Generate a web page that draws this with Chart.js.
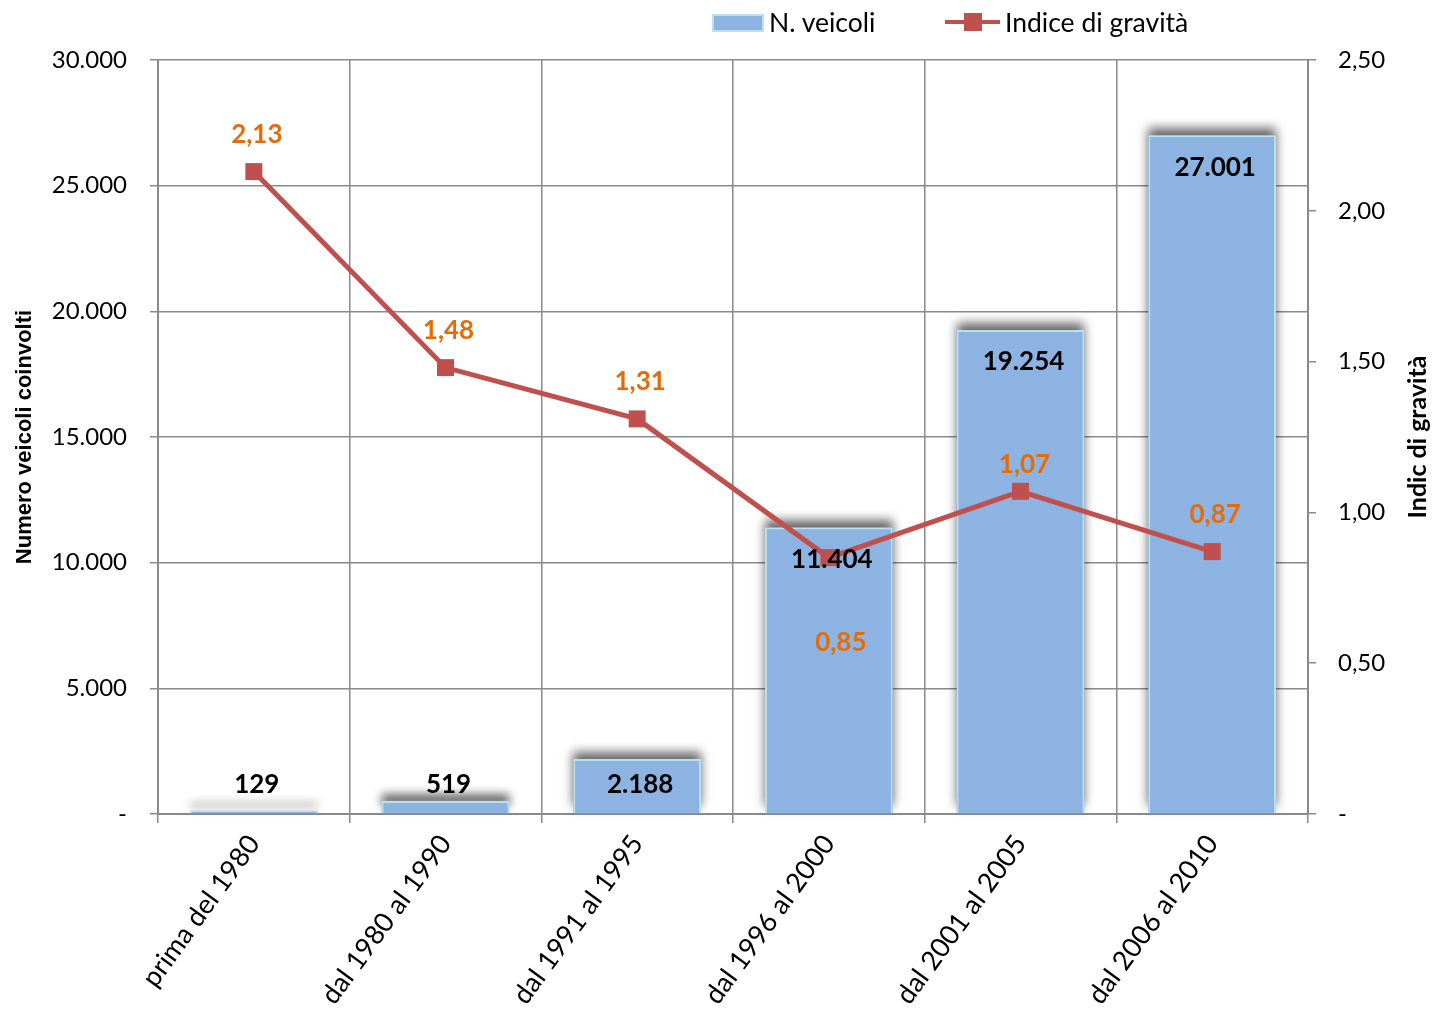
<!DOCTYPE html>
<html lang="it">
<head>
<meta charset="utf-8">
<title>Veicoli coinvolti e indice di gravità</title>
<script src="https://cdn.jsdelivr.net/npm/chart.js@4/dist/chart.umd.min.js"></script>
<style>
    html, body { margin: 0; padding: 0; background: #ffffff; }
    .wrap { position: relative; width: 1433px; height: 1011px; }
    canvas { position: absolute; left: 0; top: 0; }
    .legend { position: absolute; top: 6px; left: 712px; height: 32px; font-family: Lato, sans-serif; font-size: 26.5px; color: #000; }
    .legend-item { position: absolute; top: 0; white-space: nowrap; line-height: 32px; }
    .swatch-bar { position: absolute; top: 8px; left: 0; width: 48px; height: 14px; background: #8db3e2; border: 2px solid #b9e0ec; }
    .swatch-line { position: absolute; top: 14px; left: 0; width: 55px; height: 4px; background: #c0504d; }
    .swatch-mark { position: absolute; top: 7px; left: 19px; width: 18px; height: 18px; background: #c0504d; }
</style>
</head>
<body>
<div class="wrap">
    <canvas id="veicoliChart" width="1433" height="1011"></canvas>
    <div class="legend">
        <div class="legend-item" style="left:0">
            <span class="swatch-bar"></span>
            <span style="position:absolute;left:57px">N. veicoli</span>
        </div>
        <div class="legend-item" style="left:233px">
            <span class="swatch-line"></span>
            <span class="swatch-mark"></span>
            <span style="position:absolute;left:60px">Indice di gravità</span>
        </div>
    </div>
</div>
<script>
const categories = ['prima del 1980', 'dal 1980 al 1990', 'dal 1991 al 1995', 'dal 1996 al 2000', 'dal 2001 al 2005', 'dal 2006 al 2010'];
const vehicles = [129, 519, 2188, 11404, 19254, 27001];
const severity = [2.13, 1.48, 1.31, 0.85, 1.07, 0.87];

const leftTicks = { min: 0, max: 30000, step: 5000 };
const rightTicks = { min: 0, max: 2.5, step: 0.5 };

document.addEventListener('DOMContentLoaded', () => {
    const gridColor = '#8a8a8a';
    const barFill = '#8db3e2';
    const barEdge = '#b9e0ec';
    const lineColor = '#c0504d';
    const labelOrange = '#e36c09';
    const baseFont = 'Lato, "Open Sans", sans-serif';

    // 30000 -> "30.000", 0 -> "-"
    const fmtThousands = (v) => (v === 0 ? '-' : String(Math.round(v)).replace(/\B(?=(\d{3})+(?!\d))/g, '.'));
    const fmtDecimal = (v) => (v === 0 ? '-' : v.toFixed(2).replace('.', ','));

    // dark soft shadow above the columns, painted before the bars themselves
    const barShadow = {
        id: 'barShadow',
        beforeDatasetDraw(chart, args) {
            if (args.index !== 0) return;
            const ctx = chart.ctx;
            ctx.save();
            ctx.shadowColor = 'rgba(0, 0, 0, 0.6)';
            ctx.shadowBlur = 10;
            ctx.shadowOffsetX = 0;
            ctx.shadowOffsetY = -7;
            ctx.fillStyle = barFill;
            chart.getDatasetMeta(0).data.forEach((bar) => {
                const { x, y, base, width } = bar.getProps(['x', 'y', 'base', 'width'], true);
                ctx.fillRect(x - width / 2, y, width, base - y);
            });
            ctx.restore();
        },
    };

    // value labels for columns and for the line
    const valueLabels = {
        id: 'valueLabels',
        afterDatasetsDraw(chart) {
            const ctx = chart.ctx;
            const bottom = chart.chartArea.bottom;
            ctx.save();
            ctx.textAlign = 'center';
            ctx.textBaseline = 'middle';

            ctx.font = `bold 26px ${baseFont}`;
            ctx.fillStyle = '#000000';
            chart.getDatasetMeta(0).data.forEach((bar, i) => {
                const y = Math.min(bar.y + 32, bottom - 29);
                ctx.fillText(fmtThousands(vehicles[i]), bar.x + 3, y);
            });

            ctx.fillStyle = labelOrange;
            const shift = { 3: { dx: 12, dy: 85 }, 4: { dx: 4, dy: -27 } };
            chart.getDatasetMeta(1).data.forEach((pt, i) => {
                const s = shift[i] || { dx: 3, dy: -37 };
                ctx.fillText(fmtDecimal(severity[i]), pt.x + s.dx, pt.y + s.dy);
            });
            ctx.restore();
        },
    };

    // vertical axis titles, both reading bottom-to-top
    const axisTitles = {
        id: 'axisTitles',
        afterDraw(chart) {
            const ctx = chart.ctx;
            const mid = (chart.chartArea.top + chart.chartArea.bottom) / 2;
            ctx.save();
            ctx.fillStyle = '#000000';
            ctx.textAlign = 'center';
            ctx.textBaseline = 'middle';

            ctx.save();
            ctx.translate(25, mid);
            ctx.rotate(-Math.PI / 2);
            ctx.font = 'bold 22px "Liberation Sans", Arial, sans-serif';
            ctx.fillText('Numero veicoli coinvolti', 0, 0);
            ctx.restore();

            ctx.save();
            ctx.translate(1418, mid);
            ctx.rotate(-Math.PI / 2);
            ctx.font = `bold 25px ${baseFont}`;
            ctx.fillText('Indic di gravità', 0, 0);
            ctx.restore();

            ctx.restore();
        },
    };

    new Chart(document.getElementById('veicoliChart'), {
        data: {
            labels: categories,
            datasets: [
                {
                    type: 'bar',
                    label: 'N. veicoli',
                    data: vehicles,
                    yAxisID: 'y',
                    backgroundColor: barFill,
                    borderColor: barEdge,
                    borderWidth: 2,
                    categoryPercentage: 1,
                    barPercentage: 0.666,
                    order: 2,
                },
                {
                    type: 'line',
                    label: 'Indice di gravità',
                    data: severity,
                    yAxisID: 'y1',
                    borderColor: lineColor,
                    backgroundColor: lineColor,
                    borderWidth: 5,
                    tension: 0,
                    pointStyle: 'rect',
                    pointRadius: 12,
                    pointBorderWidth: 0,
                    order: 1,
                },
            ],
        },
        options: {
            responsive: false,
            animation: false,
            layout: { padding: { top: 60, left: 0, right: 0, bottom: 0 } },
            plugins: {
                legend: { display: false },
                tooltip: { enabled: false },
            },
            scales: {
                x: {
                    afterFit: (scale) => { scale.height = 197; },
                    grid: { color: gridColor, lineWidth: 1.5, offset: true, tickLength: 9 },
                    border: { color: gridColor, width: 2 },
                    ticks: {
                        color: '#000000',
                        font: { family: baseFont, size: 27 },
                        minRotation: 54,
                        maxRotation: 54,
                        autoSkip: false,
                        padding: 6,
                    },
                },
                y: {
                    position: 'left',
                    min: leftTicks.min,
                    max: leftTicks.max,
                    afterFit: (scale) => { scale.width = 158; },
                    grid: { color: gridColor, lineWidth: 1.5, tickLength: 8 },
                    border: { color: gridColor, width: 2 },
                    ticks: {
                        stepSize: leftTicks.step,
                        color: '#000000',
                        font: { family: baseFont, size: 24 },
                        padding: 23,
                        callback: (value) => fmtThousands(value),
                    },
                },
                y1: {
                    position: 'right',
                    min: rightTicks.min,
                    max: rightTicks.max,
                    afterFit: (scale) => { scale.width = 125; },
                    grid: { color: gridColor, lineWidth: 1.5, tickLength: 8, drawOnChartArea: false },
                    border: { color: gridColor, width: 2 },
                    ticks: {
                        stepSize: rightTicks.step,
                        color: '#000000',
                        font: { family: baseFont, size: 24 },
                        padding: 22,
                        callback: (value) => fmtDecimal(value),
                    },
                },
            },
        },
        plugins: [barShadow, valueLabels, axisTitles],
    });
});
</script>
</body>
</html>
